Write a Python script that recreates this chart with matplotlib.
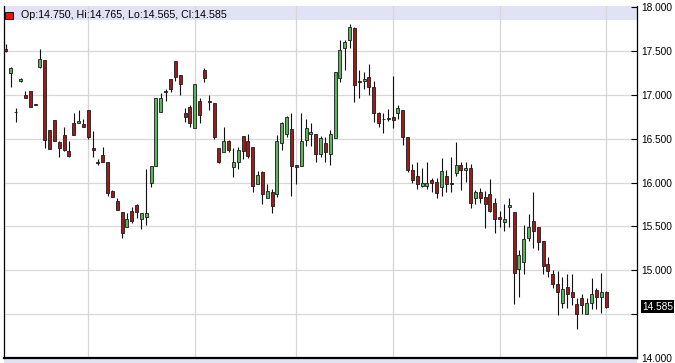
import numpy as np
import matplotlib.pyplot as plt
from matplotlib.patches import Rectangle

# daily OHLC (oldest first)
opens = [17.52, 17.25, 16.81, 17.16, 17.00, 17.04, 16.90, 17.32, 17.40, 16.60,
         16.71, 16.46, 16.54, 16.36, 16.68, 16.68, 16.67, 16.83, 16.40, 16.23,
         16.32, 16.23, 15.90, 15.79, 15.66, 15.49, 15.68, 15.75, 15.58, 15.61,
         16.00, 16.19, 16.80, 17.05, 17.18, 17.39, 17.23, 16.79, 16.86, 16.62,
         16.93, 17.28, 16.93, 16.91, 16.40, 16.35, 16.48, 16.18, 16.23, 16.53,
         16.48, 16.41, 15.98, 16.12, 15.83, 15.89, 15.87, 16.45, 16.56, 16.61,
         16.20, 16.19, 16.49, 16.56, 16.56, 16.33, 16.45, 16.33, 16.51, 17.19,
         17.53, 17.63, 17.76, 17.16, 17.16, 17.20, 17.09, 16.79, 16.73, 16.73,
         16.75, 16.79, 16.83, 16.52, 16.14, 16.08, 15.96, 15.96, 16.03, 16.01,
         15.95, 16.08, 16.00, 16.11, 16.20, 16.14, 16.17, 15.82, 15.89, 15.84,
         15.87, 15.77, 15.61, 15.55, 15.72, 15.67, 15.01, 15.10, 15.37, 15.56,
         15.49, 15.33, 15.07, 14.96, 14.84, 14.63, 14.81, 14.75, 14.62, 14.68,
         14.50, 14.63, 14.78, 14.69, 14.750]
highs = [17.58, 17.32, 16.85, 17.19, 17.04, 17.04, 16.90, 17.52, 17.40, 16.60,
         16.71, 16.48, 16.63, 16.48, 16.79, 16.83, 16.73, 16.83, 16.59, 16.27,
         16.41, 16.23, 15.92, 15.82, 15.66, 15.65, 15.72, 15.76, 15.65, 16.15,
         16.19, 16.96, 17.02, 17.07, 17.18, 17.39, 17.23, 16.85, 16.88, 17.13,
         16.96, 17.31, 17.00, 16.91, 16.40, 16.64, 16.49, 16.40, 16.41, 16.53,
         16.55, 16.41, 16.13, 16.13, 15.98, 15.93, 16.54, 16.69, 16.76, 16.79,
         16.20, 16.79, 16.72, 16.68, 16.56, 16.53, 16.52, 16.60, 17.26, 17.63,
         17.63, 17.81, 17.77, 17.29, 17.26, 17.35, 17.16, 16.80, 16.79, 16.84,
         17.22, 16.88, 16.83, 16.52, 16.21, 16.23, 16.17, 16.23, 16.05, 16.05,
         16.28, 16.14, 16.29, 16.46, 16.24, 16.24, 16.21, 15.92, 15.94, 15.91,
         16.04, 15.83, 15.68, 15.76, 15.82, 15.67, 15.23, 15.52, 15.64, 15.89,
         15.49, 15.33, 15.15, 15.00, 14.99, 14.92, 14.96, 14.96, 14.68, 14.73,
         14.68, 14.91, 14.80, 14.97, 14.765]
lows = [17.49, 17.09, 16.69, 17.15, 16.96, 16.86, 16.89, 17.31, 16.40, 16.38,
        16.47, 16.29, 16.36, 16.29, 16.54, 16.68, 16.63, 16.50, 16.29, 16.20,
        16.23, 15.85, 15.84, 15.69, 15.37, 15.49, 15.54, 15.60, 15.47, 15.52,
        15.95, 16.19, 16.80, 16.93, 17.03, 17.16, 17.00, 16.69, 16.63, 16.62,
        16.68, 17.15, 16.83, 16.50, 16.22, 16.35, 16.35, 16.06, 16.15, 16.27,
        16.28, 15.89, 15.98, 15.76, 15.83, 15.65, 15.84, 16.37, 16.52, 15.85,
        15.99, 16.19, 16.42, 16.42, 16.23, 16.29, 16.24, 16.20, 16.51, 17.15,
        17.28, 17.53, 16.92, 16.97, 17.07, 17.00, 16.69, 16.63, 16.57, 16.70,
        16.62, 16.73, 16.43, 16.12, 16.00, 15.93, 15.95, 15.93, 15.89, 15.82,
        15.85, 15.89, 15.89, 16.08, 15.92, 16.01, 15.71, 15.76, 15.77, 15.48,
        15.66, 15.43, 15.49, 15.45, 15.49, 14.62, 14.70, 14.96, 15.34, 15.26,
        15.23, 14.96, 14.92, 14.80, 14.49, 14.57, 14.57, 14.61, 14.33, 14.50,
        14.50, 14.56, 14.56, 14.51, 14.565]
closes = [17.50, 17.31, 16.80, 17.18, 16.97, 16.86, 16.89, 17.41, 16.49, 16.38,
          16.48, 16.39, 16.37, 16.30, 16.54, 16.70, 16.63, 16.52, 16.37, 16.22,
          16.23, 15.88, 15.84, 15.69, 15.43, 15.59, 15.56, 15.67, 15.65, 15.65,
          16.19, 16.96, 16.96, 17.03, 17.07, 17.21, 17.13, 16.75, 16.68, 17.13,
          16.77, 17.19, 16.92, 16.52, 16.24, 16.47, 16.37, 16.24, 16.37, 16.36,
          16.30, 15.96, 16.09, 15.87, 15.90, 15.73, 16.48, 16.68, 16.75, 16.19,
          16.18, 16.48, 16.62, 16.58, 16.33, 16.51, 16.35, 16.56, 17.26, 17.51,
          17.60, 17.77, 17.11, 17.15, 17.18, 17.09, 16.79, 16.68, 16.72, 16.74,
          16.71, 16.85, 16.52, 16.14, 16.03, 15.99, 16.00, 16.00, 16.00, 15.88,
          16.13, 15.99, 15.99, 16.20, 16.14, 16.17, 15.77, 15.89, 15.83, 15.76,
          15.68, 15.58, 15.58, 15.58, 15.75, 14.97, 15.17, 15.36, 15.49, 15.45,
          15.32, 15.05, 14.99, 14.84, 14.75, 14.79, 14.73, 14.69, 14.50, 14.60,
          14.63, 14.73, 14.69, 14.75, 14.585]

# candles where a month starts (vertical grid lines)
month_starts = [17, 39, 60, 80, 102, 124]
price_ticks = [14.0, 14.5, 15.0, 15.5, 16.0, 16.5, 17.0, 17.5, 18.0]
last_open, last_high, last_low, last_close = "14.750", "14.765", "14.565", "14.585"

W, H = 675, 363
BAND = "#e2e2f7"
UP = "#58b558"
DOWN = "#a11a1a"
EDGE = "#1c1c1c"
FONT = "Liberation Sans"

fig = plt.figure(figsize=(W / 100, H / 100), dpi=100)
ax_left, ax_right, ax_top, ax_bottom = 4, 637, 6, 358
ax = fig.add_axes([ax_left / W, (H - ax_bottom) / H,
                   (ax_right - ax_left) / W, (ax_bottom - ax_top) / H])

o = np.array(opens)
h = np.array(highs)
l = np.array(lows)
c = np.array(closes)
x = np.arange(len(o))

# grid
for yv in price_ticks[1:-1]:
    ax.axhline(yv, color="#d8d8d8", linewidth=0.9, zorder=0)
for xv in month_starts:
    ax.axvline(xv, color="#d6d6d6", linewidth=0.9, zorder=0)

# header band inside the top of the price panel
ax.add_patch(Rectangle((0, 1 - 13.5 / (ax_bottom - ax_top)), 1, 13.5 / (ax_bottom - ax_top),
                       transform=ax.transAxes, facecolor=BAND, edgecolor="none", zorder=-1))

# candles
ax.vlines(x, l, h, color="#111111", linewidth=0.8, zorder=2)
up = c >= o
body_h = np.maximum(np.abs(c - o), 0.004)
ax.bar(x[up], body_h[up], bottom=np.minimum(o, c)[up], width=0.62,
       color=UP, edgecolor=EDGE, linewidth=0.6, zorder=3)
ax.bar(x[~up], body_h[~up], bottom=np.minimum(o, c)[~up], width=0.62,
       color=DOWN, edgecolor=EDGE, linewidth=0.6, zorder=3)

ax.set_xlim(-0.41, 130.4)
ax.set_ylim(14.0, 18.0143)

ax.yaxis.tick_right()
ax.set_yticks(price_ticks)
ax.set_yticklabels(["" if t == 14.5 else f"{t:.3f}" for t in price_ticks],
                   fontsize=7.3, family=FONT)
ax.tick_params(axis="y", direction="in", length=4, width=0.8, pad=3, colors="black")
ax.set_xticks([])

for side in ["left", "right"]:
    ax.spines[side].set_color("black")
    ax.spines[side].set_linewidth(0.9)
ax.spines["top"].set_visible(False)
ax.spines["bottom"].set_linewidth(1.6)

# legend-like header text
fig.patches.append(Rectangle((5 / W, 1 - 18.5 / H), 8 / W, 7 / H, transform=fig.transFigure,
                             facecolor="#e01515", edgecolor="black", linewidth=0.6))
fig.text(21 / W, 1 - 15 / H,
         f"Op:{last_open}, Hi:{last_high}, Lo:{last_low}, Cl:{last_close}",
         fontsize=7.7, family=FONT, va="center", ha="left")

# bottom band (volume panel header, cut off)
fig.patches.append(Rectangle((4 / W, 0), (ax_right - 4) / W, (H - ax_bottom) / H,
                             transform=fig.transFigure, facecolor=BAND, edgecolor="none",
                             zorder=-1))

# last price marker on the axis
last_y = ax.transData.transform((0, c[-1]))[1]
fig.text(642 / W, last_y / fig.dpi / fig.get_figheight(), last_close,
         fontsize=7.3, family=FONT, color="white", va="center", ha="left",
         bbox=dict(boxstyle="square,pad=0.12", facecolor="black", edgecolor="none"))

fig.savefig("out.png", dpi=100)
plt.close(fig)
